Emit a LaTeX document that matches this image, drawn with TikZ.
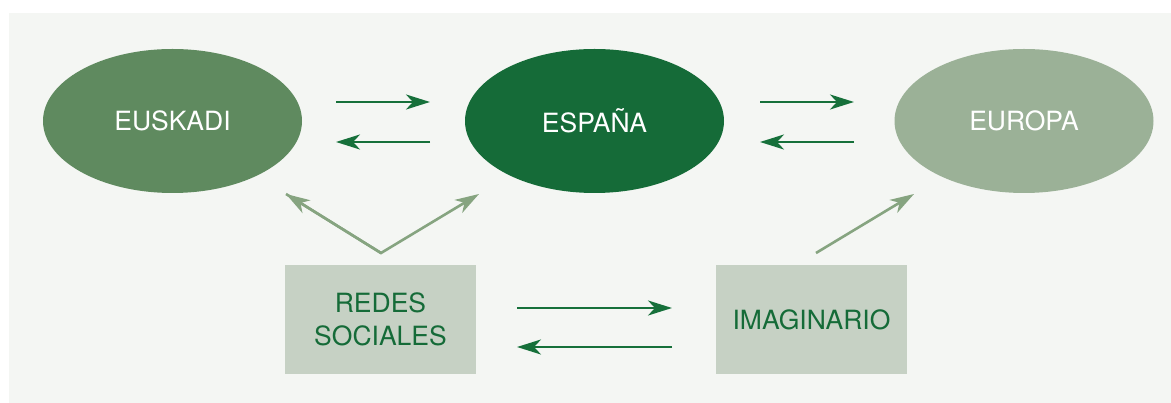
\documentclass[tikz,border=0pt]{standalone}
\usepackage{fontspec}
\setmainfont{TeX Gyre Heros}
\usetikzlibrary{arrows.meta,shapes.geometric}
\definecolor{panel}{HTML}{F4F6F3}
\definecolor{cEus}{HTML}{5F8A5F}
\definecolor{cEsp}{HTML}{156B38}
\definecolor{cEur}{HTML}{9BB197}
\definecolor{cBox}{HTML}{C6D1C4}
\definecolor{cDark}{HTML}{16703A}
\definecolor{cLight}{HTML}{86A480}
\tikzset{
  oval/.style={ellipse, minimum width=259pt, minimum height=144pt, inner sep=0pt, text=white, font=\fontsize{26.5}{30}\selectfont},
  sbox/.style={rectangle, minimum width=191pt, minimum height=109pt, inner sep=0pt, fill=cBox, text=cEsp, align=center, font=\fontsize{26.5}{33}\selectfont},
  darr/.style={draw=cDark, line width=2.6pt, -{Stealth[length=24pt, width=15pt, inset=7pt]}},
  larr/.style={draw=cLight, line width=2.6pt, -{Stealth[length=24pt, width=15pt, inset=7pt]}}
}
\begin{document}
\begin{tikzpicture}[x=1pt, y=-1pt]
\useasboundingbox (0,0) rectangle (1171,403);
\fill[white] (0,0) rectangle (1171,403);
\fill[panel] (9,13) rectangle (1171,403);

\node[oval, fill=cEus] (eus) at (172.5,121) {EUSKADI};
\node[oval, fill=cEsp] (esp) at (594.5,121) {ESPAÑA};
\node[oval, fill=cEur] (eur) at (1024,121) {EUROPA};

\node[sbox] (redes) at (380.5,319.5) {REDES\\SOCIALES};
\node[sbox] (imag) at (811.5,319.5) {IMAGINARIO};

% top arrows
\coordinate (a1s) at (336,102); \coordinate (a1e) at (430,102);
\coordinate (a2s) at (430,142); \coordinate (a2e) at (336,142);
\coordinate (b1s) at (760,102); \coordinate (b1e) at (854,102);
\coordinate (b2s) at (854,142); \coordinate (b2e) at (760,142);
\draw[darr] (a1s) -- (a1e);
\draw[darr] (a2s) -- (a2e);
\draw[darr] (b1s) -- (b1e);
\draw[darr] (b2s) -- (b2e);

% bottom arrows
\coordinate (c1s) at (517,308); \coordinate (c1e) at (672,308);
\coordinate (c2s) at (672,347); \coordinate (c2e) at (517,347);
\draw[darr] (c1s) -- (c1e);
\draw[darr] (c2s) -- (c2e);

% V arrows
\coordinate (v) at (381,253);
\coordinate (vl) at (286,194);
\coordinate (vr) at (479,194);
\draw[larr, line join=miter] (vl) -- (v) -- (vr);
\draw[larr] (v) -- (vl);

\coordinate (is) at (816,253);
\coordinate (ie) at (914,194);
\draw[larr] (is) -- (ie);
\end{tikzpicture}
\end{document}
